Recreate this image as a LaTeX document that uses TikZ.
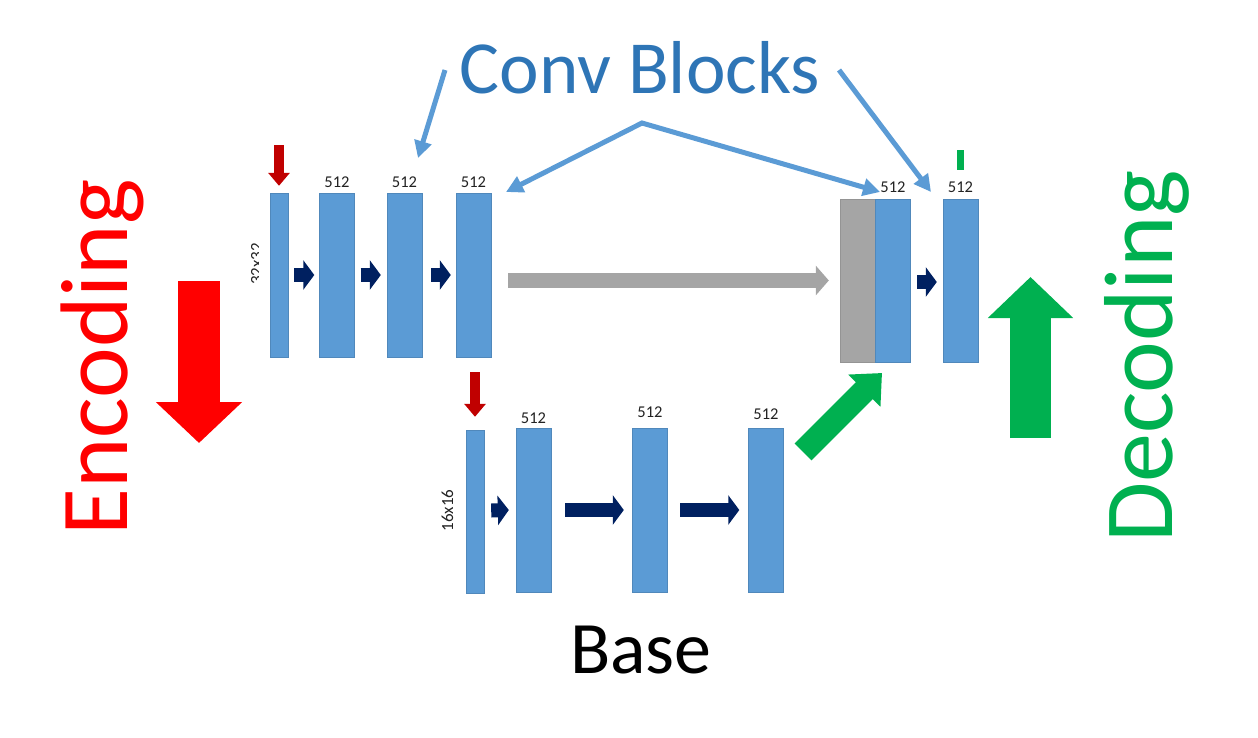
\documentclass[tikz,border=0pt]{standalone}
\usepackage{fontspec}
\setmainfont{Carlito}
\usetikzlibrary{arrows.meta,calc}

\definecolor{barblue}{HTML}{5B9BD5}
\definecolor{titleblue}{HTML}{2E75B6}
\definecolor{catgray}{HTML}{A5A5A5}
\definecolor{navy}{HTML}{002060}
\definecolor{darkred}{HTML}{C00000}
\definecolor{encred}{HTML}{FF0000}
\definecolor{decgreen}{HTML}{00B050}
\definecolor{labelgray}{HTML}{222222}

\tikzset{
  bar/.style={rectangle, fill=barblue, draw=barblue!88!black, line width=0.4pt,
              inner sep=0pt, minimum width=35pt, minimum height=164pt},
  thinbar/.style={bar, minimum width=18pt},
  catbar/.style={bar, fill=catgray, draw=catgray!90!black},
  num/.style={font=\fontsize{16.5}{18}\selectfont, text=labelgray, inner sep=0pt, anchor=base},
  dimtext/.style={font=\fontsize{17}{19}\selectfont, text=labelgray, inner sep=0pt, anchor=base, rotate=90},
  stepflow/.style={draw=navy, line width=14pt, -{Triangle[length=11pt,width=29pt]}},
  poolarrow/.style={draw=darkred, line width=10pt, -{Triangle[length=13pt,width=21pt]}},
  skiparrow/.style={draw=catgray, line width=15pt, -{Triangle[length=13pt,width=29pt]}},
  pointer/.style={draw=barblue, line width=5pt, line join=miter, -{Triangle[length=17pt,width=17pt]}},
  bigtext/.style={inner sep=0pt, anchor=base}
}

\begin{document}
\begin{tikzpicture}[x=1pt, y=-1pt]
  \useasboundingbox (0,0) rectangle (1258,737);

  % encoder, 32x32 level
  \node[thinbar] (b0) at (279,275) {};
  \node[bar]     (b1) at (337,275) {};
  \node[bar]     (b2) at (404.5,275) {};
  \node[bar]     (b3) at (473.5,275) {};
  \node[num] (n1) at (337,187.5) {512};
  \node[num] (n2) at (404.5,187.5) {512};
  \node[num] (n3) at (473.5,187.5) {512};
  \begin{scope}
    \clip (245,225) rectangle (258.5,305);
    \node[dimtext] (d32) at (262,264) {32x32};
  \end{scope}

  % base, 16x16 level
  \node[thinbar, minimum height=163pt] (b4) at (475,511.5) {};
  \node[bar] (b5) at (533.5,510) {};
  \node[bar] (b6) at (649.5,510) {};
  \node[bar] (b7) at (766,510) {};
  \node[num] (n5) at (533.5,423.5) {512};
  \node[num] (n6) at (650,417.5) {512};
  \node[num] (n7) at (766,419.5) {512};
  \node[dimtext] (d16) at (453,510.5) {16x16};

  % decoder
  \node[catbar, minimum height=163pt] (cat) at (857.5,280.5) {};
  \node[bar, minimum height=163pt] (d1) at (892.5,280.5) {};
  \node[bar, minimum height=163pt] (d2) at (960.5,280.5) {};
  \node[num] (n8) at (893,192.5) {512};
  \node[num] (n9) at (960.5,192.5) {512};
  \fill[decgreen] (957,150) rectangle (964,170);

  % convolution steps
  \draw[stepflow] ($(b0.east)+(6,0)$) -- ($(b1.west)+(-5,0)$);
  \draw[stepflow] ($(b1.east)+(6,0)$) -- ($(b2.west)+(-6,0)$);
  \draw[stepflow] ($(b2.east)+(9,0)$) -- ($(b3.west)+(-5,0)$);
  \draw[stepflow] ($(b4.east)+(7,-1)$) -- ($(b5.west)+(-7,0)$);
  \draw[stepflow] ($(b5.east)+(14,0)$) -- ($(b6.west)+(-8,0)$);
  \draw[stepflow] ($(b6.east)+(13,0)$) -- ($(b7.west)+(-9,0)$);
  \draw[stepflow] ($(d1.east)+(7,1.5)$) -- ($(d2.west)+(-6,1.5)$);

  % pooling arrows
  \coordinate (p0) at (279,145);
  \coordinate (p1) at (475,372);
  \draw[poolarrow, shorten >=7pt] (p0) -- (b0.north);
  \draw[poolarrow, shorten >=13pt] (p1) -- (b4.north);

  % skip connection
  \draw[skiparrow] ($(b3.east |- cat.west)+(17,0)$) -- ($(cat.west)+(-11,0)$);

  % upsampling
  \coordinate (up0) at (803,452);
  \coordinate (up1) at (882,373);
  \draw[draw=decgreen, line width=24pt, -{Triangle[length=25pt,width=44pt]}] (up0) -- (up1);

  % conv block pointers
  \coordinate (ca) at (445,70);
  \coordinate (ta) at (418,158);
  \coordinate (apex) at (642,123);
  \coordinate (tb) at (506,192);
  \coordinate (tc) at (880,192);
  \coordinate (cd) at (839,70);
  \coordinate (td) at (931,192);
  \draw[pointer] (ca) -- (ta);
  \draw[pointer, {Triangle[length=17pt,width=17pt]}-{Triangle[length=17pt,width=17pt]}] (tb) -- (apex) -- (tc);
  \draw[pointer] (cd) -- (td);

  % big direction arrows
  \coordinate (e0) at (199,281);
  \coordinate (e1) at (199,443);
  \draw[draw=encred, line width=42pt, -{Triangle[length=41pt,width=84pt]}] (e0) -- (e1);
  \coordinate (g0) at (1030.5,438);
  \coordinate (g1) at (1030.5,277);
  \draw[draw=decgreen, line width=41pt, -{Triangle[length=41pt,width=83pt]}] (g0) -- (g1);

  % titles
  \node[bigtext, text=titleblue, font=\fontsize{75}{80}\selectfont] (title) at (640,93) {Conv Blocks};
  \node[bigtext, font=\fontsize{74}{80}\selectfont] (base) at (641,673) {Base};
  \node[bigtext, rotate=90, text=encred, font=\fontsize{96}{100}\selectfont] (enc) at (127,357.5) {Encoding};
  \node[bigtext, rotate=90, text=decgreen, font=\fontsize{98}{100}\selectfont] (dec) at (1172,356.5) {Decoding};
\end{tikzpicture}
\end{document}
